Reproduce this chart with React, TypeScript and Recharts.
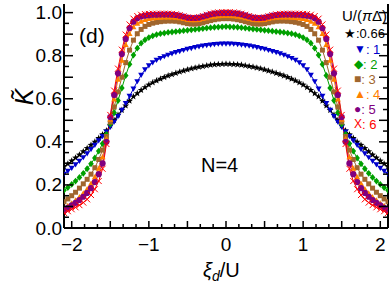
import React from 'react';
import { LineChart, Line, XAxis, YAxis } from 'recharts';

// xi_d / U sample points
const XI = [
  -2.1, -2.05, -2, -1.95, -1.9, -1.85, -1.8, -1.75, -1.7, -1.65, -1.6, -1.55, -1.5, -1.45, -1.4, -1.35, -1.3,
  -1.25, -1.2, -1.15, -1.1, -1.05, -1, -0.95, -0.9, -0.85, -0.8, -0.75, -0.7, -0.65, -0.6, -0.55, -0.5, -0.45,
  -0.4, -0.35, -0.3, -0.25, -0.2, -0.15, -0.1, -0.05, 0, 0.05, 0.1, 0.15, 0.2, 0.25, 0.3, 0.35, 0.4, 0.45, 0.5,
  0.55, 0.6, 0.65, 0.7, 0.75, 0.8, 0.85, 0.9, 0.95, 1, 1.05, 1.1, 1.15, 1.2, 1.25, 1.3, 1.35, 1.4, 1.45, 1.5,
  1.55, 1.6, 1.65, 1.7, 1.75, 1.8, 1.85, 1.9, 1.95, 2, 2.05, 2.1,
];

// K~ for U/(pi Delta) = 0.66, 1, 2, 3, 4, 5, 6
const K066 = [
  0.285, 0.298, 0.312, 0.326, 0.340, 0.355, 0.370, 0.385, 0.400, 0.417, 0.434, 0.452, 0.475, 0.500, 0.525, 0.547,
  0.568, 0.590, 0.610, 0.625, 0.640, 0.653, 0.665, 0.675, 0.684, 0.692, 0.700, 0.707, 0.713, 0.719, 0.725, 0.730,
  0.735, 0.740, 0.744, 0.748, 0.751, 0.754, 0.757, 0.759, 0.760, 0.761, 0.762,
  0.761, 0.760, 0.759, 0.757, 0.754, 0.751, 0.748, 0.744, 0.740, 0.735, 0.730, 0.725, 0.719, 0.713, 0.707, 0.700,
  0.692, 0.684, 0.675, 0.665, 0.653, 0.640, 0.625, 0.610, 0.590, 0.568, 0.547, 0.525, 0.500, 0.475, 0.452, 0.434,
  0.417, 0.400, 0.385, 0.370, 0.355, 0.340, 0.326, 0.312, 0.298, 0.285,
];
const K1 = [
  0.250, 0.264, 0.278, 0.294, 0.310, 0.327, 0.345, 0.365, 0.385, 0.405, 0.425, 0.446, 0.468, 0.492, 0.518, 0.547,
  0.578, 0.612, 0.646, 0.680, 0.710, 0.735, 0.754, 0.768, 0.779, 0.788, 0.796, 0.803, 0.809, 0.815, 0.820, 0.825,
  0.830, 0.834, 0.838, 0.842, 0.845, 0.848, 0.850, 0.852, 0.854, 0.855, 0.855,
  0.855, 0.854, 0.852, 0.850, 0.848, 0.845, 0.842, 0.838, 0.834, 0.830, 0.825, 0.820, 0.815, 0.809, 0.803, 0.796,
  0.788, 0.779, 0.768, 0.754, 0.735, 0.710, 0.680, 0.646, 0.612, 0.578, 0.547, 0.518, 0.492, 0.468, 0.446, 0.425,
  0.405, 0.385, 0.365, 0.345, 0.327, 0.310, 0.294, 0.278, 0.264, 0.250,
];
const K2 = [
  0.175, 0.188, 0.203, 0.218, 0.235, 0.254, 0.275, 0.298, 0.325, 0.357, 0.392, 0.435, 0.482, 0.535, 0.592, 0.650,
  0.708, 0.760, 0.803, 0.835, 0.858, 0.873, 0.884, 0.892, 0.898, 0.902, 0.905, 0.908, 0.910, 0.912, 0.914, 0.916,
  0.918, 0.920, 0.922, 0.924, 0.926, 0.928, 0.930, 0.932, 0.933, 0.934, 0.935,
  0.934, 0.933, 0.932, 0.930, 0.928, 0.926, 0.924, 0.922, 0.920, 0.918, 0.916, 0.914, 0.912, 0.910, 0.908, 0.905,
  0.902, 0.898, 0.892, 0.884, 0.873, 0.858, 0.835, 0.803, 0.760, 0.708, 0.650, 0.592, 0.535, 0.482, 0.435, 0.392,
  0.357, 0.325, 0.298, 0.275, 0.254, 0.235, 0.218, 0.203, 0.188, 0.175,
];
const K3 = [
  0.122, 0.135, 0.150, 0.166, 0.185, 0.205, 0.226, 0.250, 0.280, 0.318, 0.362, 0.425, 0.492, 0.562, 0.632, 0.700,
  0.768, 0.826, 0.872, 0.902, 0.922, 0.936, 0.945, 0.951, 0.955, 0.958, 0.960, 0.961, 0.961, 0.960, 0.957, 0.953,
  0.949, 0.947, 0.947, 0.949, 0.953, 0.958, 0.963, 0.967, 0.970, 0.972, 0.972,
  0.972, 0.970, 0.967, 0.963, 0.958, 0.953, 0.949, 0.947, 0.947, 0.949, 0.953, 0.957, 0.960, 0.961, 0.961, 0.960,
  0.958, 0.955, 0.951, 0.945, 0.936, 0.922, 0.902, 0.872, 0.826, 0.768, 0.700, 0.632, 0.562, 0.492, 0.425, 0.362,
  0.318, 0.280, 0.250, 0.226, 0.205, 0.185, 0.166, 0.150, 0.135, 0.122,
];
const K4 = [
  0.093, 0.104, 0.116, 0.130, 0.145, 0.162, 0.182, 0.207, 0.238, 0.277, 0.330, 0.415, 0.505, 0.598, 0.690, 0.778,
  0.852, 0.902, 0.934, 0.950, 0.960, 0.967, 0.972, 0.975, 0.977, 0.978, 0.979, 0.979, 0.979, 0.978, 0.976, 0.972,
  0.968, 0.966, 0.966, 0.968, 0.972, 0.976, 0.980, 0.983, 0.985, 0.986, 0.986,
  0.986, 0.985, 0.983, 0.980, 0.976, 0.972, 0.968, 0.966, 0.966, 0.968, 0.972, 0.976, 0.978, 0.979, 0.979, 0.979,
  0.978, 0.977, 0.975, 0.972, 0.967, 0.960, 0.950, 0.934, 0.902, 0.852, 0.778, 0.690, 0.598, 0.505, 0.415, 0.330,
  0.277, 0.238, 0.207, 0.182, 0.162, 0.145, 0.130, 0.116, 0.104, 0.093,
];
const K5 = [
  0.084, 0.094, 0.105, 0.117, 0.130, 0.145, 0.163, 0.185, 0.213, 0.250, 0.300, 0.400, 0.515, 0.618, 0.718, 0.808,
  0.878, 0.928, 0.958, 0.974, 0.982, 0.986, 0.988, 0.990, 0.990, 0.991, 0.991, 0.991, 0.990, 0.989, 0.986, 0.982,
  0.977, 0.975, 0.975, 0.977, 0.982, 0.987, 0.992, 0.995, 0.997, 0.998, 0.998,
  0.998, 0.997, 0.995, 0.992, 0.987, 0.982, 0.977, 0.975, 0.975, 0.977, 0.982, 0.986, 0.989, 0.990, 0.991, 0.991,
  0.991, 0.990, 0.990, 0.988, 0.986, 0.982, 0.974, 0.958, 0.928, 0.878, 0.808, 0.718, 0.618, 0.515, 0.400, 0.300,
  0.250, 0.213, 0.185, 0.163, 0.145, 0.130, 0.117, 0.105, 0.094, 0.084,
];
const K6 = [
  0.070, 0.078, 0.087, 0.096, 0.106, 0.118, 0.133, 0.153, 0.180, 0.218, 0.275, 0.390, 0.525, 0.638, 0.740, 0.828,
  0.898, 0.945, 0.972, 0.984, 0.990, 0.993, 0.994, 0.995, 0.995, 0.995, 0.995, 0.995, 0.994, 0.992, 0.988, 0.983,
  0.978, 0.976, 0.976, 0.979, 0.984, 0.990, 0.995, 0.999, 1.001, 1.002, 1.002,
  1.002, 1.001, 0.999, 0.995, 0.990, 0.984, 0.979, 0.976, 0.976, 0.978, 0.983, 0.988, 0.992, 0.994, 0.995, 0.995,
  0.995, 0.995, 0.995, 0.994, 0.993, 0.990, 0.984, 0.972, 0.945, 0.898, 0.828, 0.740, 0.638, 0.525, 0.390, 0.275,
  0.218, 0.180, 0.153, 0.133, 0.118, 0.106, 0.096, 0.087, 0.078, 0.070,
];

const X_LABELS = [-2, -1, 0, 1, 2];
const Y_LABELS = [0, 0.2, 0.4, 0.6, 0.8, 1.0];

const SERIES = [
  { key: 'k066', values: K066, color: '#000000', shape: 'star', sym: '★', label: ':0.66' },
  { key: 'k1', values: K1, color: '#0000cc', shape: 'down', sym: '▼', label: ': 1' },
  { key: 'k2', values: K2, color: '#00a000', shape: 'diamond', sym: '◆', label: ': 2' },
  { key: 'k3', values: K3, color: '#a0662e', shape: 'square', sym: '■', label: ': 3' },
  { key: 'k4', values: K4, color: '#ff8000', shape: 'up', sym: '▲', label: ': 4' },
  { key: 'k5', values: K5, color: '#800080', shape: 'circle', sym: '●', label: ': 5' },
  { key: 'k6', values: K6, color: '#ff0000', shape: 'x', sym: 'X', label: ': 6' },
];
const LEGEND_Y = [33, 49, 64, 79, 94, 109, 124];

const rows = XI.map((x, i) => {
  const r: Record<string, number> = { x };
  SERIES.forEach((s) => { r[s.key] = s.values[i]; });
  return r;
});

// minor ticks: x every 1/6, y every 0.05
const xTicks: number[] = [];
for (let i = -12; i <= 12; i++) xTicks.push(i / 6);
const yTicks: number[] = [];
for (let i = 0; i <= 20; i++) yTicks.push(i / 20);

const FONT = '"Liberation Sans", Arial, sans-serif';
const near = (v: number, step: number) => Math.abs(v / step - Math.round(v / step)) < 1e-6;

const Marker = ({ cx, cy, shape, color }: any) => {
  if (cx == null || cy == null) return null;
  switch (shape) {
    case 'star': {
      const pts: string[] = [];
      for (let k = 0; k < 10; k++) {
        const r = k % 2 === 0 ? 3.6 : 1.5;
        const a = -Math.PI / 2 + (k * Math.PI) / 5;
        pts.push(`${cx + r * Math.cos(a)},${cy + r * Math.sin(a)}`);
      }
      return <polygon points={pts.join(' ')} fill={color} />;
    }
    case 'down':
      return <polygon points={`${cx - 3},${cy - 2.4} ${cx + 3},${cy - 2.4} ${cx},${cy + 2.8}`} fill={color} />;
    case 'up':
      return <polygon points={`${cx - 3},${cy + 2.4} ${cx + 3},${cy + 2.4} ${cx},${cy - 2.8}`} fill={color} />;
    case 'diamond':
      return <polygon points={`${cx},${cy - 3.4} ${cx + 2.8},${cy} ${cx},${cy + 3.4} ${cx - 2.8},${cy}`} fill={color} />;
    case 'square':
      return <rect x={cx - 2.5} y={cy - 2.5} width={5} height={5} fill={color} />;
    case 'circle':
      return <circle cx={cx} cy={cy} r={3.1} fill={color} />;
    default:
      return (
        <g stroke={color} strokeWidth={1}>
          <line x1={cx - 3} y1={cy - 3} x2={cx + 3} y2={cy + 3} />
          <line x1={cx - 3} y1={cy + 3} x2={cx + 3} y2={cy - 3} />
        </g>
      );
  }
};

const BottomTick = ({ x, y, payload }: any) => {
  const v = payload.value;
  const len = near(v, 0.5) ? 7 : 4;
  return (
    <g>
      <line x1={x} y1={y} x2={x} y2={y - len} stroke="#000" strokeWidth={1.5} />
      {X_LABELS.some((l) => Math.abs(l - v) < 1e-6) && (
        <text x={x} y={y + 16} textAnchor="middle" dominantBaseline="central" fontSize={19} fontFamily={FONT} fill="#000">
          {v < 0 ? `\u2212${Math.abs(v)}` : v}
        </text>
      )}
    </g>
  );
};

const TopTick = ({ x, y, payload }: any) => {
  const len = near(payload.value, 0.5) ? 7 : 4;
  return <line x1={x} y1={y} x2={x} y2={y + len} stroke="#000" strokeWidth={1.5} />;
};

const LeftTick = ({ x, y, payload }: any) => {
  const v = payload.value;
  const len = near(v, 0.1) ? 9 : 5;
  return (
    <g>
      <line x1={x} y1={y} x2={x + len} y2={y} stroke="#000" strokeWidth={1.5} />
      {Y_LABELS.some((l) => Math.abs(l - v) < 1e-6) && (
        <text x={x - 2} y={y} textAnchor="end" dominantBaseline="central" fontSize={19} fontFamily={FONT} fill="#000">
          {v.toFixed(1)}
        </text>
      )}
    </g>
  );
};

const RightTick = ({ x, y, payload }: any) => {
  const len = near(payload.value, 0.1) ? 9 : 5;
  return <line x1={x} y1={y} x2={x - len} y2={y} stroke="#000" strokeWidth={1.5} />;
};

export default function App() {
  const axisLine = { stroke: '#000', strokeWidth: 2 };
  return (
    <div style={{ position: 'absolute', left: 0, top: 0, width: 390, height: 285, background: '#fff' }}>
      <LineChart width={390} height={285} data={rows} margin={{ top: 4, right: 0, bottom: 0, left: 0 }}>
        <XAxis
          xAxisId="b"
          dataKey="x"
          type="number"
          domain={[-2.1, 2.1]}
          allowDataOverflow
          ticks={xTicks}
          interval={0}
          tickSize={0}
          tickMargin={0}
          tickLine={false}
          tick={<BottomTick />}
          axisLine={axisLine}
          height={57}
        />
        <XAxis
          xAxisId="t"
          orientation="top"
          dataKey="x"
          type="number"
          domain={[-2.1, 2.1]}
          allowDataOverflow
          ticks={xTicks}
          interval={0}
          tickSize={0}
          tickMargin={0}
          tickLine={false}
          tick={<TopTick />}
          axisLine={axisLine}
          height={0}
        />
        <YAxis
          yAxisId="l"
          type="number"
          domain={[0, 1.04]}
          allowDataOverflow
          ticks={yTicks}
          interval={0}
          tickSize={0}
          tickMargin={0}
          tickLine={false}
          tick={<LeftTick />}
          axisLine={axisLine}
          width={64}
        />
        <YAxis
          yAxisId="r"
          orientation="right"
          type="number"
          domain={[0, 1.04]}
          allowDataOverflow
          ticks={yTicks}
          interval={0}
          tickSize={0}
          tickMargin={0}
          tickLine={false}
          tick={<RightTick />}
          axisLine={axisLine}
          width={2}
        />
        {SERIES.map((s) => (
          <Line
            key={s.key}
            xAxisId="b"
            yAxisId="l"
            dataKey={s.key}
            type="linear"
            stroke={s.color}
            strokeWidth={1}
            isAnimationActive={false}
            dot={(p: any) => <Marker key={`${s.key}-${p.index}`} cx={p.cx} cy={p.cy} shape={s.shape} color={s.color} />}
            activeDot={false}
          />
        ))}
      </LineChart>
      <svg width={390} height={285} style={{ position: 'absolute', left: 0, top: 0, pointerEvents: 'none' }} fontFamily={FONT}>
        <text x={79} y={35} fontSize={21} dominantBaseline="central">(d)</text>
        <text x={201} y={165} fontSize={20} dominantBaseline="central">N=4</text>
        <text x={203} y={277} fontSize={20}>
          <tspan fontStyle="italic">ξ</tspan>
          <tspan fontStyle="italic" fontSize={14} dy={4}>d</tspan>
          <tspan dy={-4}>/U</tspan>
        </text>
        <text x={342} y={15} fontSize={15} dominantBaseline="central">
          U/(<tspan fontStyle="italic">π</tspan>Δ)
        </text>
        {SERIES.map((s, i) => (
          <text
            key={s.key}
            x={i === 0 ? 344 : 354}
            y={LEGEND_Y[i]}
            fontSize={13}
            fill={s.color}
            dominantBaseline="central"
          >
            <tspan fontSize={i === 0 ? 13 : 12}>{s.sym}</tspan>
            {s.label}
          </text>
        ))}
      </svg>
      <div
        style={{
          position: 'absolute',
          left: 4,
          top: 82,
          width: 40,
          height: 30,
          lineHeight: '30px',
          textAlign: 'center',
          fontFamily: FONT,
          fontSize: 25,
          fontStyle: 'italic',
          transform: 'rotate(-90deg)',
        }}
      >
        K&#771;
      </div>
    </div>
  );
}
